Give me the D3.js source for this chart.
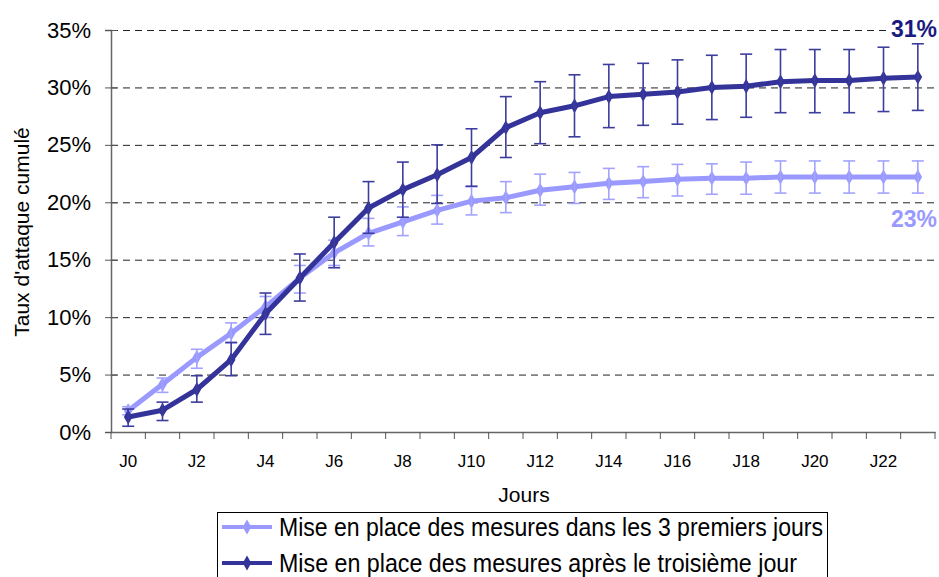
<!DOCTYPE html>
<html>
<head>
<meta charset="utf-8">
<script src="https://cdn.jsdelivr.net/npm/d3@7"></script>
<style>
  body { margin: 0; background: #fff; }
  text { font-family: "Liberation Sans", Arial, sans-serif; }
</style>
</head>
<body>
<script>
// categories J0..J23
var days = ["J0","J1","J2","J3","J4","J5","J6","J7","J8","J9","J10","J11",
            "J12","J13","J14","J15","J16","J17","J18","J19","J20","J21","J22","J23"];
var yTicks = [0, 5, 10, 15, 20, 25, 30, 35];

// series 1: mesures dans les 3 premiers jours (%)
var early = [1.85,4.15,6.5,8.6,10.9,13.4,15.6,17.3,18.3,19.3,20.1,20.4,
             21.05,21.35,21.65,21.8,22.0,22.1,22.1,22.2,22.2,22.2,22.2,22.2];
var earlyLow = [1.5,3.45,5.55,7.75,10.0,12.1,14.5,16.2,17.1,18.1,18.9,19.1,
                19.75,19.9,20.25,20.4,20.55,20.7,20.7,20.8,20.8,20.8,20.8,20.8];
var earlyHigh = [2.2,4.7,7.2,9.5,11.8,14.5,16.7,18.6,19.6,20.6,21.35,21.8,
                 22.45,22.6,22.95,23.1,23.3,23.35,23.5,23.6,23.6,23.6,23.6,23.6];

// series 2: mesures après le troisième jour (%)
var late = [1.3,1.9,3.7,6.3,10.3,13.4,16.5,19.5,21.1,22.4,23.9,26.5,
            27.8,28.4,29.2,29.4,29.6,30.0,30.1,30.5,30.6,30.6,30.8,30.9];
var lateLow = [0.5,1.0,2.6,4.9,8.5,11.4,14.3,17.3,18.7,19.9,21.4,23.9,
               25.1,25.7,26.5,26.7,26.8,27.2,27.4,27.8,27.8,27.8,27.9,28.0];
var lateHigh = [2.0,2.6,4.9,7.8,12.1,15.5,18.7,21.8,23.5,25.0,26.4,29.2,
                30.5,31.1,32.0,32.1,32.4,32.8,32.9,33.3,33.3,33.3,33.5,33.8];

var series = [
  {name: "Mise en place des mesures dans les 3 premiers jours", vals: early, lo: earlyLow, hi: earlyHigh,
   color: "#9999ff", bar: "#a3a3ff", label: "23%", labelColor: "#9999ff", len: 544},
  {name: "Mise en place des mesures après le troisième jour", vals: late, lo: lateLow, hi: lateHigh,
   color: "#333399", bar: "#3d3d9e", label: "31%", labelColor: "#1a1a80", len: 518}
];

var W = 939, H = 577;
var mLeft = 111, mRight = 935, mTop = 30, mBottom = 432;

var svg = d3.select("body").append("svg")
    .attr("width", W)
    .attr("height", H);

var x = d3.scaleBand().domain(days).range([mLeft, mRight]);
var y = d3.scaleLinear().domain([0, 35]).range([mBottom, mTop]);

// gridlines
svg.append("g")
    .selectAll("line")
    .data(yTicks.filter(function(d){ return d > 0; }))
    .join("line")
    .attr("x1", mLeft).attr("x2", mRight + 2)
    .attr("y1", function(d){ return y(d) + 0.5; })
    .attr("y2", function(d){ return y(d) + 0.5; })
    .attr("stroke", "#222")
    .attr("stroke-width", 1)
    .attr("stroke-dasharray", "7,5");

// y axis
var yAxis = svg.append("g")
    .attr("transform", "translate(" + mLeft + ",0)")
    .call(d3.axisLeft(y).tickValues(yTicks).tickSize(6).tickPadding(14)
        .tickFormat(function(d){ return d + "%"; }));
yAxis.select(".domain").attr("stroke", "#666").attr("stroke-width", 1.5);
yAxis.selectAll(".tick line").attr("stroke", "#555").attr("x2", -6).attr("x1", 6);
yAxis.selectAll("text").attr("font-size", 22).attr("fill", "#000")
    .attr("font-family", "Liberation Sans, Arial, sans-serif");

// x axis
var xAxis = svg.append("g")
    .attr("transform", "translate(0," + mBottom + ")")
    .call(d3.axisBottom(x).tickSize(0).tickPadding(23)
        .tickFormat(function(d, i){ return i % 2 === 0 ? d : ""; }));
xAxis.select(".domain").attr("stroke", "#666").attr("stroke-width", 1.5);
xAxis.selectAll("text").attr("font-size", 17).attr("fill", "#000")
    .attr("font-family", "Liberation Sans, Arial, sans-serif");
// tick marks between categories
xAxis.append("g").selectAll("line")
    .data(days.concat(["end"]))
    .join("line")
    .attr("x1", function(d, i){ return mLeft + i * x.step(); })
    .attr("x2", function(d, i){ return mLeft + i * x.step(); })
    .attr("y1", 0).attr("y2", 7)
    .attr("stroke", "#555");

// axis titles
svg.append("text")
    .attr("x", 524).attr("y", 502)
    .attr("text-anchor", "middle")
    .attr("font-size", 21)
    .text("Jours");
svg.append("text")
    .attr("transform", "translate(29,232) rotate(-90)")
    .attr("text-anchor", "middle")
    .attr("font-size", 21)
    .text("Taux d'attaque cumulé");

var cx = function(d, i){ return x(days[i]) + x.bandwidth() / 2; };
var diamond = d3.symbol().type(d3.symbolDiamond).size(64);

series.forEach(function(s) {
  var g = svg.append("g");
  var line = d3.line().x(cx).y(function(d){ return y(d); });
  g.append("path")
      .datum(s.vals)
      .attr("d", line)
      .attr("fill", "none")
      .attr("stroke", s.color)
      .attr("stroke-width", 5)
      .attr("stroke-linejoin", "round");
  g.selectAll(".m")
      .data(s.vals)
      .join("path")
      .attr("class", "m")
      .attr("transform", function(d, i){ return "translate(" + cx(d, i) + "," + y(d) + ")"; })
      .attr("d", diamond)
      .attr("fill", s.color);
  // error bars
  var eb = g.selectAll(".eb")
      .data(s.vals)
      .join("g")
      .attr("class", "eb")
      .attr("stroke", s.bar)
      .attr("stroke-width", 1.6);
  eb.append("line")
      .attr("x1", cx).attr("x2", cx)
      .attr("y1", function(d, i){ return y(s.lo[i]); })
      .attr("y2", function(d, i){ return y(s.hi[i]); });
  eb.append("line")
      .attr("x1", function(d, i){ return cx(d, i) - 6; })
      .attr("x2", function(d, i){ return cx(d, i) + 6; })
      .attr("y1", function(d, i){ return y(s.lo[i]); })
      .attr("y2", function(d, i){ return y(s.lo[i]); });
  eb.append("line")
      .attr("x1", function(d, i){ return cx(d, i) - 6; })
      .attr("x2", function(d, i){ return cx(d, i) + 6; })
      .attr("y1", function(d, i){ return y(s.hi[i]); })
      .attr("y2", function(d, i){ return y(s.hi[i]); });
});

// end labels (white box behind, hides the gridline)
var endLabels = [
  {s: series[1], y: 37},
  {s: series[0], y: 227}
];
endLabels.forEach(function(d) {
  var t = svg.append("text")
      .attr("x", 937).attr("y", d.y)
      .attr("text-anchor", "end")
      .attr("font-size", 23).attr("font-weight", "bold")
      .attr("fill", d.s.labelColor)
      .text(d.s.label);
  var bb = t.node().getBBox();
  svg.insert("rect", function(){ return t.node(); })
      .attr("x", bb.x - 2).attr("y", bb.y + 2)
      .attr("width", bb.width + 2).attr("height", bb.height - 4)
      .attr("fill", "#fff");
});

// legend
var lg = svg.append("g");
lg.append("rect")
    .attr("x", 217.5).attr("y", 512.5)
    .attr("width", 610).attr("height", 80)
    .attr("fill", "#fff").attr("stroke", "#000").attr("stroke-width", 1);
series.forEach(function(s, i) {
  var yy = 527 + i * 36;
  lg.append("line")
      .attr("x1", 222).attr("x2", 272)
      .attr("y1", yy).attr("y2", yy)
      .attr("stroke", s.color).attr("stroke-width", 4);
  lg.append("path")
      .attr("transform", "translate(247," + yy + ")")
      .attr("d", diamond)
      .attr("fill", s.color);
  lg.append("text")
      .attr("x", 279).attr("y", yy + 9)
      .attr("font-size", 25)
      .attr("textLength", s.len)
      .attr("lengthAdjust", "spacingAndGlyphs")
      .text(s.name);
});
</script>
</body>
</html>
